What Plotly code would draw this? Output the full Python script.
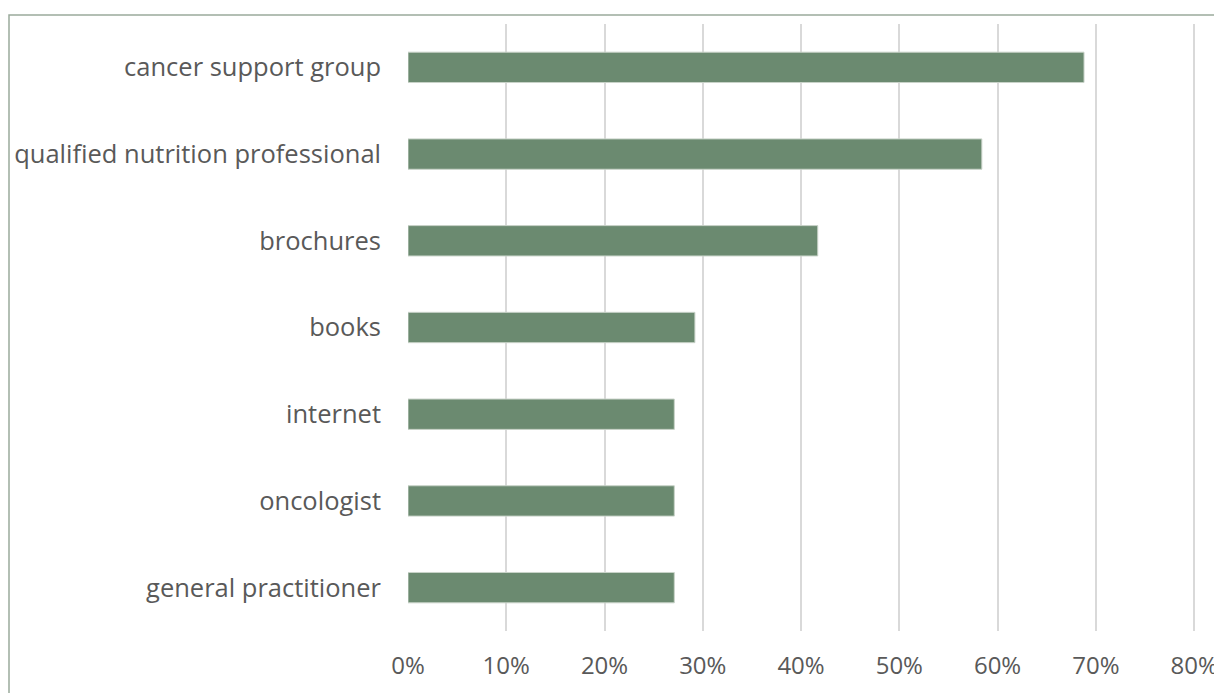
import plotly.graph_objects as go

# Sources of nutrition information (share of respondents)
categories = [
    "cancer support group",
    "qualified nutrition professional",
    "brochures",
    "books",
    "internet",
    "oncologist",
    "general practitioner",
]
shares = [68.8, 58.4, 41.7, 29.2, 27.1, 27.1, 27.1]
tick_values = [0, 10, 20, 30, 40, 50, 60, 70, 80]
tick_labels = ["0%", "10%", "20%", "30%", "40%", "50%", "60%", "70%", "80%"]

W, H = 1214, 693
L, R, T, B = 408, 15, 24, 62
pw, ph = W - L - R, H - T - B

fig = go.Figure(
    go.Bar(
        x=shares,
        y=categories,
        orientation="h",
        marker=dict(color="#6b8a70", line=dict(color="#c9d3c9", width=1)),
        width=0.35,
        hoverinfo="x+y",
    )
)

# thin frame around the chart area, running off the right and bottom edges
fig.add_shape(
    type="rect",
    xref="paper", yref="paper",
    x0=(9 - L) / pw, x1=(W + 10 - L) / pw,
    y0=-(B + 10) / ph, y1=1 + (T - 15) / ph,
    line=dict(color="#9aab9c", width=1.5),
    fillcolor="rgba(0,0,0,0)",
    layer="below",
)

fig.update_layout(
    width=W,
    height=H,
    margin=dict(l=L, r=R, t=T, b=B, pad=0, autoexpand=False),
    paper_bgcolor="white",
    plot_bgcolor="white",
    showlegend=False,
    font=dict(family="Open Sans", size=25, color="#595959"),
    bargap=0.65,
)
fig.update_xaxes(
    range=[0, 80.5],
    tickvals=tick_values,
    ticktext=tick_labels,
    showgrid=True,
    gridcolor="#d9d9d9",
    gridwidth=2,
    zeroline=False,
    showline=False,
    ticks="",
    ticklabelstandoff=18,
    ticklabeloverflow="allow",
    automargin=False,
    tickfont=dict(size=24, color="#595959"),
)
fig.update_yaxes(
    categoryorder="array",
    categoryarray=categories[::-1],
    showgrid=False,
    zeroline=False,
    showline=False,
    ticks="",
    ticklabelstandoff=26,
    automargin=False,
    tickfont=dict(size=25.5, color="#595959"),
)

fig.write_html("out.html")
